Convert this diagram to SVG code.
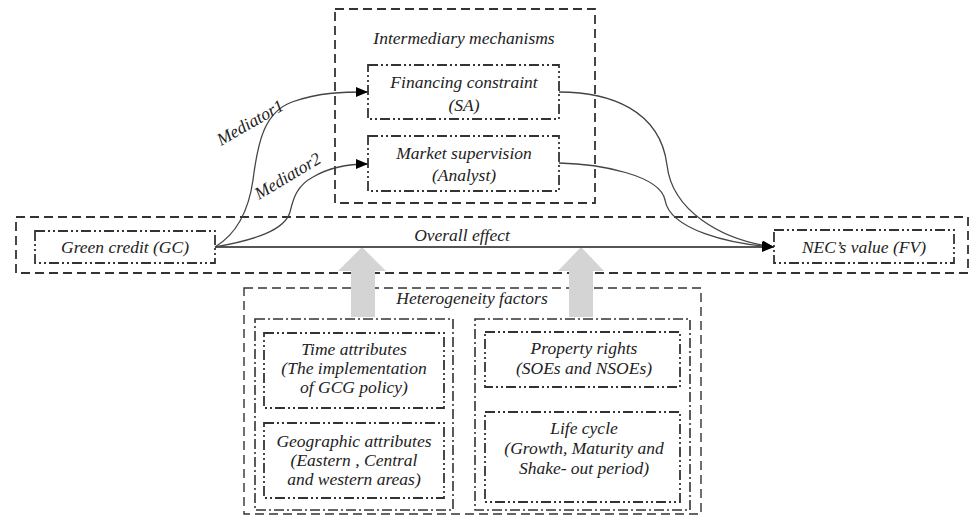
<svg xmlns="http://www.w3.org/2000/svg" width="974" height="517" viewBox="0 0 974 517">
<style>
text{font-family:"Liberation Serif","DejaVu Serif",serif;font-style:italic;font-size:17.5px;fill:#222;text-anchor:middle}
.dash{fill:none;stroke:#333;stroke-width:1.8;stroke-dasharray:9,5}
.dd{fill:none;stroke:#333;stroke-width:1.8;stroke-dasharray:10,3,2,3,2,3}
.dc{fill:none;stroke:#333;stroke-width:1.6;stroke-dasharray:10,3,2,3}
.conn{fill:none;stroke:#444;stroke-width:1.3}
.gray{fill:#d4d4d4}
</style>
<defs>
<marker id="ah" viewBox="0 0 12 10" refX="12" refY="5" markerWidth="12" markerHeight="10" markerUnits="userSpaceOnUse" orient="auto">
<path d="M0,0 L12,5 L0,10 Z" fill="#000"/>
</marker>
</defs>
<rect width="974" height="517" fill="#fff"/>

<g id="mechanisms">
<rect class="dash" x="335" y="9" width="260" height="194"/>
<text x="464" y="44">Intermediary mechanisms</text>
</g>
<g id="overall">
<rect class="dash" x="16" y="217" width="952" height="56"/>
</g>
<g id="heterogeneity">
<rect class="dash" x="244" y="288" width="457" height="226" style="stroke-width:1.4"/>
<text x="472" y="304">Heterogeneity factors</text>
</g>

<g id="arrows-up">
<path class="gray" d="M351,317 V271 H338 L362,247 L386,271 H375 V317 Z"/>
<path class="gray" d="M569,317 V271 H558 L581,247 L604,271 H593 V317 Z"/>
</g>

<g id="financing">
<rect class="dd" x="368" y="65" width="191" height="54"/>
<text x="464" y="88">Financing constraint</text>
<text x="464" y="111">(SA)</text>
</g>
<g id="market">
<rect class="dd" x="368" y="136" width="191" height="55"/>
<text x="464" y="159">Market supervision</text>
<text x="464" y="181">(Analyst)</text>
</g>
<g id="gc">
<rect class="dd" x="35" y="231" width="180" height="32"/>
<text x="125" y="253">Green credit (GC)</text>
</g>
<g id="fv">
<rect class="dd" x="774" y="230" width="180" height="33"/>
<text x="864" y="253">NEC’s value (FV)</text>
</g>

<g id="left-column">
<rect class="dc" x="255" y="319" width="198" height="191"/>
</g>
<g id="time">
<rect class="dd" x="264" y="333" width="180" height="75"/>
<text x="354" y="355">Time attributes</text>
<text x="354" y="374">(The implementation</text>
<text x="354" y="393">of GCG policy)</text>
</g>
<g id="geo">
<rect class="dd" x="264" y="423" width="180" height="75"/>
<text x="354" y="447">Geographic attributes</text>
<text x="354" y="466">(Eastern , Central</text>
<text x="354" y="485">and western areas)</text>
</g>
<g id="right-column">
<rect class="dc" x="475" y="319" width="215" height="191"/>
</g>
<g id="property">
<rect class="dd" x="485" y="332" width="195" height="55"/>
<text x="584" y="354">Property rights</text>
<text x="584" y="374">(SOEs and NSOEs)</text>
</g>
<g id="lifecycle">
<rect class="dd" x="485" y="412" width="195" height="90"/>
<text x="584" y="434">Life cycle</text>
<text x="584" y="454">(Growth, Maturity and</text>
<text x="584" y="474">Shake- out period)</text>
</g>

<g id="connectors">
<path d="M215,247 H774" fill="none" stroke="#555" stroke-width="2" marker-end="url(#ah)"/>
<path class="conn" d="M215,247 C235,235 248,215 253,180 C258,140 265,112 292,102 C320,92 345,92 368,92" marker-end="url(#ah)"/>
<path class="conn" d="M215,247 C255,240 285,230 290,212 C293,200 296,186 313,177 C330,167 350,164 368,164" marker-end="url(#ah)"/>
<path class="conn" d="M559,92 C610,92 660,110 667,165 C672,210 720,240 774,247" marker-end="url(#ah)"/>
<path class="conn" d="M559,163 C600,164 660,175 665,200 C670,230 730,244 774,247" marker-end="url(#ah)"/>
<text x="462" y="241">Overall effect</text>
<text x="0" y="0" transform="translate(221,146) rotate(-30)" style="text-anchor:start">Mediator1</text>
<text x="0" y="0" transform="translate(259,200) rotate(-31)" style="text-anchor:start">Mediator2</text>
</g>
</svg>
